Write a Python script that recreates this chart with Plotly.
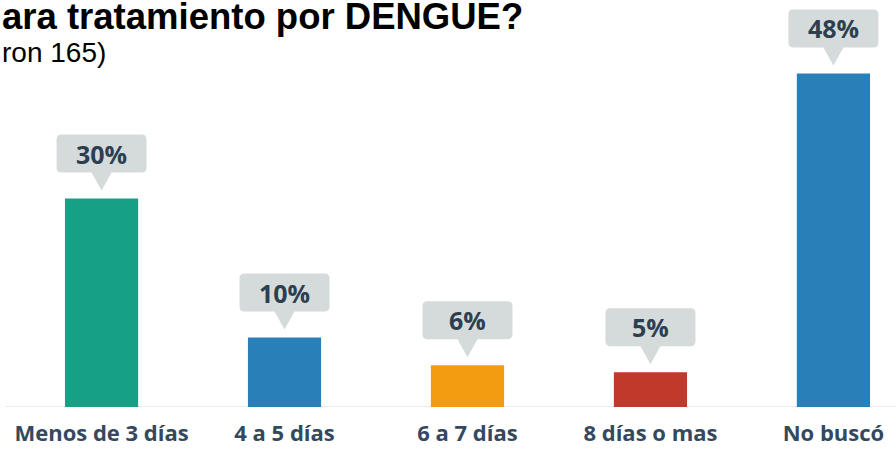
import plotly.graph_objects as go

categories = ["Menos de 3 días", "4 a 5 días", "6 a 7 días", "8 días o mas", "No buscó"]
values = [30, 10, 6, 5, 48]
labels = ["30%", "10%", "6%", "5%", "48%"]
colors = ["#16a085", "#2980b9", "#f39c12", "#c0392b", "#2980b9"]
title_text = "ara tratamiento por DENGUE?"
subtitle_text = "ron 165)"

fig = go.Figure()
fig.add_trace(go.Bar(
    x=list(range(len(categories))), y=values,
    marker=dict(color=colors, line=dict(width=0)),
    width=0.4, hoverinfo="skip",
))

# callout bubbles
w, b, t, r, th, tip = 45, 26, 64, 5, 10, 8
path = (f"M {-w+r},{b} L {-th},{b} L 0,{tip} L {th},{b} L {w-r},{b} "
        f"Q {w},{b} {w},{b+r} L {w},{t-r} Q {w},{t} {w-r},{t} "
        f"L {-w+r},{t} Q {-w},{t} {-w},{t-r} L {-w},{b+r} Q {-w},{b} {-w+r},{b} Z")
for i, (v, lab) in enumerate(zip(values, labels)):
    fig.add_shape(type="path", xref="x", yref="y", xsizemode="pixel", ysizemode="pixel",
                  xanchor=i, yanchor=v, path=path,
                  fillcolor="#d5dadb", line=dict(width=0), layer="above")
    fig.add_annotation(x=i, y=v, xref="x", yref="y", text=lab, showarrow=False,
                       yshift=(b + t) / 2, yanchor="middle",
                       font=dict(family="Open Sans", size=25, color="#2c3e50", weight="bold"))

# baseline
fig.add_shape(type="line", xref="paper", yref="y", x0=0.006, x1=1, y0=0, y1=0,
              line=dict(color="#e8ecee", width=2), layer="below")

fig.add_annotation(xref="paper", yref="paper", x=0, y=1, xanchor="left", yanchor="top",
                   text=f"<b>{title_text}</b>", showarrow=False, yshift=6,
                   font=dict(family="Liberation Sans", size=36.5, color="#000000"))
fig.add_annotation(xref="paper", yref="paper", x=0, y=1, xanchor="left", yanchor="top",
                   text=subtitle_text, showarrow=False, yshift=-35,
                   font=dict(family="Liberation Sans", size=28, color="#000000"))

fig.update_layout(
    width=896, height=449,
    margin=dict(l=0, r=0, t=0, b=42),
    paper_bgcolor="white", plot_bgcolor="white",
    showlegend=False,
    xaxis=dict(range=[-0.555, 4.342], tickmode="array", tickvals=list(range(len(categories))),
               ticktext=categories, showgrid=False, zeroline=False, showline=False,
               ticks="", ticklabelstandoff=11, automargin=False,
               tickfont=dict(family="Open Sans", size=22, color="#34495e", weight="bold")),
    yaxis=dict(range=[0, 58.56], visible=False, showgrid=False, zeroline=False),
)
fig.write_html("out.html", config={"displayModeBar": False},
               post_script="document.body.style.margin='0';")
